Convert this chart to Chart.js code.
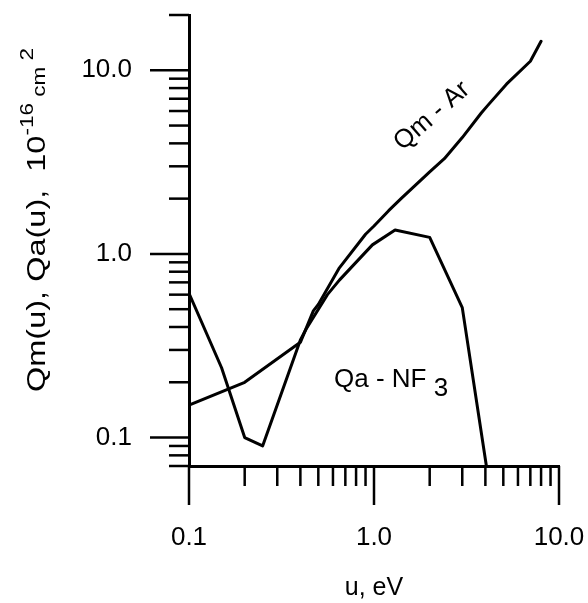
<!DOCTYPE html>
<html>
<head>
<meta charset="utf-8">
<script src="https://cdn.jsdelivr.net/npm/chart.js@4.4.0/dist/chart.umd.min.js"></script>
<style>
  html, body { margin: 0; padding: 0; background: #fff; }
  #wrap { width: 588px; height: 603px; }
</style>
</head>
<body>
<div id="wrap"><canvas id="graph" width="588" height="603"></canvas></div>
<script>
// Qm - Ar
const energyAr = [0.1, 0.2, 0.4, 0.47, 0.5, 0.65, 0.9, 1.0, 1.2, 1.4, 2.0, 2.4, 3.0, 3.8, 4.1, 5.2, 7.0, 8.0];
const qmAr = [0.15, 0.2, 0.33, 0.49, 0.53, 0.84, 1.28, 1.42, 1.72, 2.0, 2.8, 3.3, 4.3, 5.85, 6.4, 8.4, 11.2, 14.4];
// Qa - NF3
const energyNF3 = [0.1, 0.15, 0.2, 0.25, 0.4, 0.43, 0.56, 0.65, 0.98, 1.3, 2.0, 3.0, 4.05];
const qaNF3 = [0.61, 0.24, 0.1, 0.09, 0.34, 0.39, 0.6, 0.72, 1.12, 1.35, 1.23, 0.51, 0.07];

const xTicks = [0.1, 0.2, 0.3, 0.4, 0.5, 0.6, 0.7, 0.8, 0.9, 1, 2, 3, 4, 5, 6, 7, 8, 9, 10];
const yTicks = [0.07, 0.08, 0.09, 0.1, 0.2, 0.3, 0.4, 0.5, 0.6, 0.7, 0.8, 0.9, 1, 2, 3, 4, 5, 6, 7, 8, 9, 10, 20];
const majorTicks = [0.1, 1, 10];
const majorLabels = ['0.1', '1.0', '10.0'];

const fontFamily = '"Liberation Sans", Arial, sans-serif';

function toPoints(xs, ys) {
  return xs.map((x, i) => ({ x: x, y: ys[i] }));
}
function tickLabel(value) {
  let i = majorTicks.findIndex((m) => Math.abs(m - value) < 1e-9);
  return i >= 0 ? majorLabels[i] : '';
}
// keep chart area where the original has it, no auto padding from labels
function noPadding(scale) {
  scale.paddingTop = 0;
  scale.paddingBottom = 0;
  scale.paddingLeft = 0;
  scale.paddingRight = 0;
}

const tickMarks = {
  id: 'tickMarks',
  afterDraw(chart) {
    const ctx = chart.ctx;
    const xs = chart.scales.x, ys = chart.scales.y;
    const area = chart.chartArea;
    ctx.save();
    ctx.strokeStyle = '#000';
    ctx.lineWidth = 2.5;
    xTicks.forEach((v) => {
      let px = xs.getPixelForValue(v);
      let len = majorTicks.includes(v) ? 39 : 20;
      ctx.beginPath();
      ctx.moveTo(px, area.bottom);
      ctx.lineTo(px, area.bottom + len);
      ctx.stroke();
    });
    yTicks.forEach((v) => {
      let py = ys.getPixelForValue(v);
      let len = majorTicks.includes(v) ? 39 : 20;
      ctx.beginPath();
      ctx.moveTo(area.left - len, py);
      ctx.lineTo(area.left, py);
      ctx.stroke();
    });
    ctx.restore();
  }
};

const textLabels = {
  id: 'textLabels',
  afterDraw(chart) {
    const ctx = chart.ctx;
    ctx.save();
    ctx.fillStyle = '#000';
    ctx.textBaseline = 'alphabetic';

    // y axis title with super/subscripts (original glyphs are stretched along the text)
    ctx.save();
    ctx.translate(45, 392);
    ctx.rotate(-Math.PI / 2);
    ctx.scale(1.25, 1);
    let parts = [
      { t: 'Qm(u), Qa(u),  10', size: 26, dy: 0 },
      { t: '-16', size: 18, dy: -12 },
      { t: ' cm', size: 18, dy: 0 },
      { t: ' 2', size: 18, dy: -12 }
    ];
    let x = 0;
    parts.forEach((p) => {
      ctx.font = p.size + 'px ' + fontFamily;
      ctx.fillText(p.t, x, p.dy);
      x += ctx.measureText(p.t).width;
    });
    ctx.restore();

    // Qm - Ar
    ctx.save();
    ctx.translate(432, 116);
    ctx.rotate(-41 * Math.PI / 180);
    ctx.font = '26px ' + fontFamily;
    ctx.textAlign = 'center';
    ctx.textBaseline = 'middle';
    ctx.fillText('Qm - Ar', 0, 0);
    ctx.restore();

    // Qa - NF3
    ctx.font = '26px ' + fontFamily;
    ctx.fillText('Qa - NF', 334, 387);
    let w = ctx.measureText('Qa - NF ').width;
    ctx.fillText('3', 334 + w, 396);
    ctx.restore();
  }
};

new Chart(document.getElementById('graph'), {
  type: 'scatter',
  data: {
    datasets: [
      { label: 'Qm - Ar', data: toPoints(energyAr, qmAr) },
      { label: 'Qa - NF3', data: toPoints(energyNF3, qaNF3) }
    ]
  },
  options: {
    responsive: false,
    animation: false,
    events: [],
    showLine: true,
    elements: {
      point: { radius: 0 },
      line: { borderColor: '#000', borderWidth: 3, tension: 0, borderCapStyle: 'round', borderJoinStyle: 'round' }
    },
    layout: { padding: { top: 15, right: 29, left: 0, bottom: 0 } },
    plugins: {
      legend: { display: false },
      tooltip: { enabled: false }
    },
    scales: {
      x: {
        type: 'logarithmic',
        min: 0.1,
        max: 10,
        afterBuildTicks: (scale) => { scale.ticks = majorTicks.map((v) => ({ value: v })); },
        afterFit: (scale) => { scale.height = 137; noPadding(scale); },
        grid: { display: true, drawOnChartArea: false, drawTicks: false, tickLength: 0 },
        border: { display: true, color: '#000', width: 3 },
        ticks: {
          autoSkip: false,
          maxRotation: 0,
          padding: 56,
          color: '#000',
          font: { family: fontFamily, size: 26 },
          callback: (value) => tickLabel(value)
        },
        title: {
          display: true,
          text: 'u, eV',
          color: '#000',
          padding: { top: 0, bottom: 0 },
          font: { family: fontFamily, size: 25 }
        }
      },
      y: {
        type: 'logarithmic',
        min: 0.07,
        max: 20,
        afterBuildTicks: (scale) => { scale.ticks = majorTicks.map((v) => ({ value: v })); },
        afterFit: (scale) => { scale.width = 189; noPadding(scale); },
        grid: { display: true, drawOnChartArea: false, drawTicks: false, tickLength: 0 },
        border: { display: true, color: '#000', width: 3 },
        ticks: {
          autoSkip: false,
          padding: 57,
          color: '#000',
          font: { family: fontFamily, size: 26 },
          callback: (value) => tickLabel(value)
        }
      }
    }
  },
  plugins: [tickMarks, textLabels]
});
</script>
</body>
</html>
